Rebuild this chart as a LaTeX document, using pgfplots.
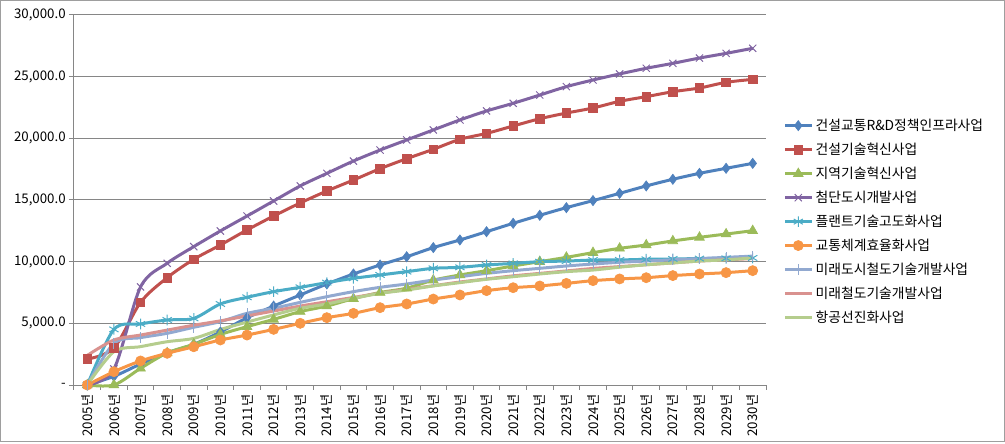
\documentclass[border=0pt]{standalone}
\usepackage{pgfplots}
\pgfplotsset{compat=1.18}
\usepackage{fontspec}
\setmainfont{Noto Sans CJK KR}
\definecolor{cA}{HTML}{4F81BD}
\definecolor{cB}{HTML}{C0504D}
\definecolor{cC}{HTML}{9BBB59}
\definecolor{cD}{HTML}{8064A2}
\definecolor{cE}{HTML}{4BACC6}
\definecolor{cF}{HTML}{F79646}
\definecolor{cG}{HTML}{92A9D0}
\definecolor{cH}{HTML}{D9928F}
\definecolor{cI}{HTML}{B5CD8D}
\definecolor{gridgray}{HTML}{868686}
\begin{document}
\fontsize{10}{12}\selectfont
\begin{tikzpicture}
\useasboundingbox (-55.5bp,-44.25bp) rectangle (698.25bp,288.75bp);
\draw[gridgray!80, line width=0.75bp] (-55.1bp,-42.4bp) rectangle (697.5bp,288.3bp);
\begin{axis}[
  at={(0,0)}, anchor=south west,
  scale only axis, width=519bp, height=277.5bp,
  xmin=-0.5, xmax=25.5, ymin=0, ymax=30000,
  scaled y ticks=false,
  axis x line*=bottom, axis y line*=left,
  axis line style={draw=gridgray, line width=0.75bp, -},
  tick align=outside,
  xtick={0,...,25},
  xticklabels={2005년,2006년,2007년,2008년,2009년,2010년,2011년,2012년,2013년,2014년,2015년,2016년,2017년,2018년,2019년,2020년,2021년,2022년,2023년,2024년,2025년,2026년,2027년,2028년,2029년,2030년},
  x tick label style={rotate=90, anchor=east, font=\fontsize{10}{12}\selectfont},
  minor xtick={-0.5,0.5,...,25.5},
  major x tick style={draw=none},
  minor x tick style={draw=gridgray, line width=0.75bp},
  minor tick length=3.75bp,
  major tick length=3.75bp,
  ytick={0,5000,10000,15000,20000,25000,30000},
  yticklabels={{-},{5,000.0},{10,000.0},{15,000.0},{20,000.0},{25,000.0},{30,000.0}},
  y tick label style={font=\fontsize{10}{12}\selectfont, xshift=1bp},
  major y tick style={draw=gridgray, line width=0.75bp},
  ymajorgrids, grid style={draw=gridgray, line width=0.75bp},
  /pgf/number format/assume math mode=true,
  clip=false,
  legend cell align=left,
  legend style={at={(1.025,0.727)}, anchor=north west, draw=none, fill=none,
    font=\fontsize{10.4}{12}\selectfont, row sep=3.9bp, inner sep=0pt},
  legend image code/.code={\draw[mark repeat=2,mark phase=2] plot coordinates {(0cm,0cm) (0.35cm,0cm) (0.7cm,0cm)};},
  every axis plot/.append style={line width=2.25bp, smooth, tension=0.5},
]
\addplot[cA, mark=diamond*, mark size=3.8bp, mark options={solid, line width=0.5bp}] coordinates {
(0,0) (1,700) (2,1700) (3,2600) (4,3300) (5,4300) (6,5450) (7,6400) (8,7300) (9,8190) (10,9000) (11,9730) (12,10400) (13,11140) (14,11760) (15,12430) (16,13110) (17,13760) (18,14380) (19,14950) (20,15540) (21,16140) (22,16680) (23,17160) (24,17570) (25,17970)};
\addlegendentry{건설교통R\&D정책인프라사업}
\addplot[cB, mark=square*, mark size=3.2bp, mark options={solid, line width=0.5bp}] coordinates {
(0,2100) (1,3000) (2,6700) (3,8700) (4,10190) (5,11350) (6,12570) (7,13700) (8,14760) (9,15730) (10,16620) (11,17540) (12,18350) (13,19110) (14,19920) (15,20400) (16,21000) (17,21590) (18,22050) (19,22460) (20,23000) (21,23380) (22,23780) (23,24080) (24,24540) (25,24780)};
\addlegendentry{건설기술혁신사업}
\addplot[cC, mark=triangle*, mark size=4.2bp, mark options={solid, line width=0.5bp}] coordinates {
(0,0) (1,0) (2,1350) (3,2600) (4,3300) (5,4100) (6,4730) (7,5320) (8,5950) (9,6400) (10,7000) (11,7500) (12,7850) (13,8500) (14,8920) (15,9270) (16,9650) (17,10000) (18,10350) (19,10730) (20,11080) (21,11350) (22,11680) (23,11970) (24,12240) (25,12510)};
\addlegendentry{지역기술혁신사업}
\addplot[cD, mark=x, mark size=3.8bp, mark options={solid, line width=0.75bp}] coordinates {
(0,0) (1,1300) (2,7950) (3,9870) (4,11220) (5,12490) (6,13700) (7,14920) (8,16140) (9,17160) (10,18160) (11,19050) (12,19870) (13,20680) (14,21490) (15,22220) (16,22840) (17,23510) (18,24190) (19,24730) (20,25220) (21,25680) (22,26080) (23,26510) (24,26890) (25,27300)};
\addlegendentry{첨단도시개발사업}
\addplot[cE, mark=asterisk, mark size=4bp, mark options={solid, line width=0.75bp}] coordinates {
(0,0) (1,4510) (2,4950) (3,5270) (4,5400) (5,6570) (6,7110) (7,7570) (8,7920) (9,8300) (10,8650) (11,8920) (12,9190) (13,9460) (14,9540) (15,9730) (16,9860) (17,10000) (18,10050) (19,10130) (20,10140) (21,10190) (22,10220) (23,10250) (24,10270) (25,10300)};
\addlegendentry{플랜트기술고도화사업}
\addplot[cF, mark=*, mark size=3.8bp, mark options={solid, line width=0.5bp}] coordinates {
(0,0) (1,1080) (2,1950) (3,2570) (4,3100) (5,3650) (6,4050) (7,4510) (8,5000) (9,5460) (10,5810) (11,6270) (12,6570) (13,6970) (14,7300) (15,7650) (16,7890) (17,8030) (18,8240) (19,8460) (20,8600) (21,8700) (22,8870) (23,9000) (24,9110) (25,9270)};
\addlegendentry{교통체계효율화사업}
\addplot[cG, mark=|, mark size=4bp, mark options={solid, line width=0.75bp}] coordinates {
(0,0) (1,3380) (2,3840) (3,4190) (4,4680) (5,5140) (6,5810) (7,6220) (8,6700) (9,7160) (10,7570) (11,7920) (12,8190) (13,8510) (14,8780) (15,9050) (16,9270) (17,9460) (18,9650) (19,9810) (20,9950) (21,10050) (22,10150) (23,10250) (24,10350) (25,10450)};
\addlegendentry{미래도시철도기술개발사업}
\addplot[cH, no marks] coordinates {
(0,2400) (1,3650) (2,4050) (3,4450) (4,4850) (5,5200) (6,5600) (7,6000) (8,6400) (9,6750) (10,7100) (11,7450) (12,7750) (13,8050) (14,8350) (15,8600) (16,8850) (17,9050) (18,9250) (19,9450) (20,9600) (21,9750) (22,9900) (23,10050) (24,10150) (25,10250)};
\addlegendentry{미래철도기술개발사업}
\addplot[cI, no marks] coordinates {
(0,0) (1,2700) (2,3110) (3,3510) (4,3780) (5,4500) (6,5100) (7,5680) (8,6220) (9,6570) (10,7030) (11,7430) (12,7700) (13,8030) (14,8300) (15,8570) (16,8780) (17,9000) (18,9190) (19,9320) (20,9550) (21,9750) (22,9900) (23,10050) (24,10150) (25,10300)};
\addlegendentry{항공선진화사업}
\end{axis}
\end{tikzpicture}
\end{document}
